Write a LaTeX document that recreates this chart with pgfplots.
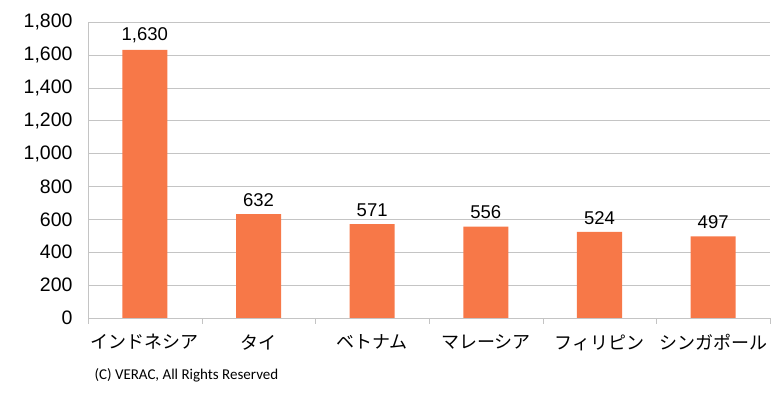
\documentclass[border=0pt]{standalone}
\usepackage{fontspec}
\usepackage{pgfplots}
\pgfplotsset{compat=1.18}
\setmainfont{Liberation Sans}
\newfontfamily\jpfont{Noto Sans CJK JP}
\newfontfamily\calfont{Carlito}
\definecolor{barc}{RGB}{247,120,72}
\definecolor{gridc}{RGB}{196,196,196}
\begin{document}
\begin{tikzpicture}[x=1pt,y=1pt]
\path (0,0) rectangle (772,396);
\begin{axis}[
  at={(88pt,78pt)}, anchor=south west,
  scale only axis, width=682pt, height=296pt,
  xmin=-0.5, xmax=5.5, ymin=0, ymax=1800,
  ytick={0,200,...,1800},
  xtick={0,...,5},
  xticklabels={インドネシア,タイ,ベトナム,マレーシア,フィリピン,シンガポール},
  minor xtick={-0.5,0.5,...,5.5},
  major tick length=0pt, minor tick length=6pt,
  tick align=outside,
  tick style={draw=gridc},
  ymajorgrids, grid style={draw=gridc},
  axis x line*=bottom, axis y line*=left,
  axis line style={draw=gridc},
  /pgf/number format/assume math mode=true,
  /pgf/number format/1000 sep={,},
  yticklabel style={font=\fontsize{19.5}{19.5}\selectfont, xshift=-12pt},
  xticklabel style={font=\jpfont\fontsize{18}{18}\selectfont, yshift=-13pt},
  nodes near coords,
  every node near coord/.append style={font=\fontsize{18.5}{18.5}\selectfont, text=black, yshift=4pt},
]
\addplot[ybar, bar width=45pt, fill=barc, draw=none] coordinates {
  (0,1630) (1,632) (2,571) (3,556) (4,524) (5,497)
};
\end{axis}
\node[anchor=west] at (91,21) {\calfont\fontsize{15}{15}\selectfont (C) VERAC, All Rights Reserved};
\end{tikzpicture}
\end{document}
